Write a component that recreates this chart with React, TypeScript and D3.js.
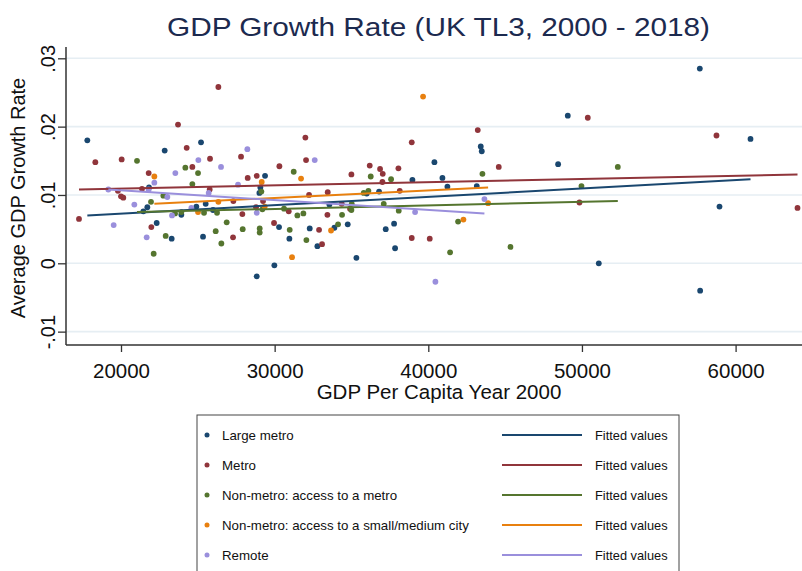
import * as d3 from "d3";
import { useRef, useEffect } from "react";

// [gdp per capita 2000, average growth rate]
const largeMetro: [number, number][] = [
  [17808, 0.018], [22843, 0.0165], [25208, 0.0177], [21823, 0.0111], [21714, 0.0082],
  [21454, 0.0076], [22322, 0.0059], [23298, 0.0036], [23928, 0.0071], [24904, 0.0083],
  [25512, 0.0087], [25338, 0.0039], [25990, 0.0078], [29375, 0.0128], [29071, 0.0111],
  [29006, 0.0103], [28832, -0.0019], [29982, -0.0003], [30286, 0.0053], [30959, 0.0036],
  [32282, 0.0051], [32782, 0.0025], [33563, 0.0086], [33888, 0.0052], [34756, 0.0057],
  [35320, 0.0008], [35993, 0.0102], [36796, 0.0105], [37230, 0.005], [37773, 0.0058],
  [37838, 0.0022], [38966, 0.0122], [40398, 0.0148], [40919, 0.0125], [41244, 0.0112],
  [43154, 0.0113], [43414, 0.0171], [43480, 0.0164], [48449, 0.0145], [49078, 0.0216],
  [51096, 0.0], [57671, 0.0285], [57693, -0.004], [58952, 0.0083], [60970, 0.0182],
];

const metro: [number, number][] = [
  [17266, 0.0065], [18329, 0.0148], [20044, 0.0152], [19800, 0.0106], [20000, 0.0098],
  [20150, 0.0096], [21367, 0.0109], [21801, 0.0132], [21975, 0.0053], [23711, 0.0203],
  [24275, 0.0169], [24644, 0.0141], [25794, 0.0153], [25772, 0.0108], [26337, 0.0258],
  [27313, 0.0091], [27812, 0.0156], [27899, 0.0072], [27291, 0.0038], [28246, 0.0125],
  [28832, 0.0128], [28789, 0.0082], [29244, 0.0091], [29960, 0.0059], [30308, 0.0142],
  [30916, 0.0076], [32000, 0.0184], [32044, 0.0151], [32239, 0.01], [32890, 0.0049],
  [33085, 0.0028], [33454, 0.0104], [33433, 0.0071], [34366, 0.0087], [34908, 0.008],
  [34995, 0.013], [36188, 0.0143], [36861, 0.0138], [37035, 0.0131], [37013, 0.0119],
  [38055, 0.0139], [38141, 0.0106], [38923, 0.0177], [38923, 0.0037], [40094, 0.0036],
  [43219, 0.0195], [44586, 0.0141], [50380, 0.0213], [49838, 0.0089], [58756, 0.0187],
  [64029, 0.0081],
];

const accessMetro: [number, number][] = [
  [21042, 0.015], [21953, 0.009], [22756, 0.0099], [22127, 0.0014], [22908, 0.004],
  [23516, 0.0073], [23928, 0.0075], [24188, 0.014], [25013, 0.0132], [24644, 0.0116],
  [25403, 0.0074], [26250, 0.0074], [26163, 0.0047], [26532, 0.0029], [26879, 0.006],
  [27921, 0.005], [29027, 0.0051], [29027, 0.0045], [29136, 0.0105], [29201, 0.0079],
  [30611, 0.008], [31240, 0.0134], [30980, 0.0049], [31479, 0.007], [31870, 0.0073],
  [32065, 0.0034], [34127, 0.0057], [34387, 0.0071], [35017, 0.0087], [34995, 0.0078],
  [35798, 0.0103], [36102, 0.0106], [36253, 0.0127], [37100, 0.0087], [37577, 0.0123],
  [38076, 0.0077], [41939, 0.0061], [41418, 0.0016], [43523, 0.0131], [45346, 0.0024],
  [49968, 0.0113], [52333, 0.0141],
];

const accessCity: [number, number][] = [
  [22170, 0.0127], [25013, 0.0075], [26337, 0.009], [29158, 0.0119], [29353, 0.0083],
  [31718, 0.0124], [31132, 0.0009], [33671, 0.0048], [39660, 0.0244], [42286, 0.0064],
  [43892, 0.0088],
];

const remote: [number, number][] = [
  [19176, 0.0108], [19523, 0.0056], [20868, 0.0086], [21671, 0.0038], [22170, 0.0118],
  [21801, 0.0108], [23016, 0.0097], [23320, 0.007], [23537, 0.0132], [24579, 0.0081],
  [25035, 0.0151], [25707, 0.0103], [26510, 0.0141], [27617, 0.0115], [28224, 0.0167],
  [28832, 0.0074], [32608, 0.0151], [39140, 0.0075], [43653, 0.0094], [40463, -0.0027],
];

// fitted values at each group's lowest and highest GDP per capita
const fitLargeMetro: [number, number][] = [[17808, 0.007], [60970, 0.0123]];
const fitMetro: [number, number][] = [[17266, 0.0108], [64029, 0.013]];
const fitAccessMetro: [number, number][] = [[21042, 0.0075], [52333, 0.0091]];
const fitAccessCity: [number, number][] = [[22170, 0.0087], [43892, 0.0111]];
const fitRemote: [number, number][] = [[19176, 0.0108], [43653, 0.0073]];

const groupNames = [
  "Large metro",
  "Metro",
  "Non-metro: access to a metro",
  "Non-metro: access to a small/medium city",
  "Remote",
];
const groupColors = ["#1a476f", "#90353b", "#55752f", "#e8800f", "#9a8fdc"];
const groupPoints = [largeMetro, metro, accessMetro, accessCity, remote];
const groupFits = [fitLargeMetro, fitMetro, fitAccessMetro, fitAccessCity, fitRemote];

const xTicks = [20000, 30000, 40000, 50000, 60000];
const yTicks = [-0.01, 0, 0.01, 0.02, 0.03];
const yTickLabels = ["-.01", "0", ".01", ".02", ".03"];

const FONT = "'Liberation Sans', Arial, sans-serif";

export default function App() {
  const xAxisRef = useRef<SVGGElement | null>(null);
  const yAxisRef = useRef<SVGGElement | null>(null);

  const plotLeft = 66;
  const plotRight = 802;
  const plotTop = 47;
  const plotBottom = 345;

  const x = d3.scaleLinear().domain([20000, 60000]).range([121, 735.6]);
  const y = d3.scaleLinear().domain([0, 0.03]).range([263.3, 58.3]);

  const line = d3.line<[number, number]>(
    (d) => x(d[0]),
    (d) => y(d[1])
  );

  useEffect(() => {
    if (xAxisRef.current) {
      d3.select(xAxisRef.current)
        .call(
          d3
            .axisBottom(x)
            .tickValues(xTicks)
            .tickSize(7)
            .tickSizeOuter(0)
            .tickPadding(11)
            .tickFormat(d3.format("d"))
        )
        .call((g) => g.select(".domain").remove())
        .attr("font-family", FONT)
        .attr("font-size", 20.5)
        .call((g) => g.selectAll("line").attr("stroke", "#333").attr("stroke-width", 1.3))
        .call((g) => g.selectAll("text").attr("fill", "#111"));
    }
    if (yAxisRef.current) {
      d3.select(yAxisRef.current)
        .call(
          d3
            .axisLeft(y)
            .tickValues(yTicks)
            .tickSize(8)
            .tickSizeOuter(0)
            .tickFormat((_, i) => yTickLabels[i])
        )
        .call((g) => g.select(".domain").remove())
        .attr("font-family", FONT)
        .attr("font-size", 20)
        .call((g) => g.selectAll("line").attr("stroke", "#333").attr("stroke-width", 1.3))
        .call((g) =>
          g
            .selectAll("text")
            .attr("fill", "#111")
            .attr("x", 0)
            .attr("dy", 0)
            .attr("text-anchor", "middle")
            .attr("transform", "translate(-11,0) rotate(-90)")
        );
    }
  }, [x, y]);

  return (
    <svg
      width={802}
      height={571}
      style={{ position: "absolute", left: 0, top: 0, background: "#fff" }}
      fontFamily={FONT}
    >
      <text x={167} y={36} fontSize={26} fill="#1c2a4f" textLength={543} lengthAdjust="spacingAndGlyphs">
        GDP Growth Rate (UK TL3, 2000 - 2018)
      </text>

      {yTicks.map((t) => (
        <line key={t} x1={plotLeft} x2={plotRight} y1={y(t)} y2={y(t)} stroke="#e6eef3" strokeWidth={1.6} />
      ))}

      {groupPoints.map((pts, gi) => (
        <g key={gi} fill={groupColors[gi]}>
          {pts.map((d, i) => (
            <circle key={i} cx={x(d[0])} cy={y(d[1])} r={2.9} />
          ))}
        </g>
      ))}

      {groupFits.map((f, gi) => (
        <path key={gi} d={line(f) || undefined} fill="none" stroke={groupColors[gi]} strokeWidth={2} />
      ))}

      <line x1={plotLeft} x2={plotLeft} y1={plotTop} y2={plotBottom} stroke="#333" strokeWidth={1.5} />
      <line x1={plotLeft} x2={plotRight} y1={plotBottom} y2={plotBottom} stroke="#333" strokeWidth={1.5} />
      <g ref={yAxisRef} transform={`translate(${plotLeft},0)`} />
      <g ref={xAxisRef} transform={`translate(0,${plotBottom})`} />

      <text
        transform={`translate(25,${(plotTop + plotBottom) / 2 + 2}) rotate(-90)`}
        textAnchor="middle"
        fontSize={20}
        fill="#111"
      >
        Average GDP Growth Rate
      </text>
      <text x={439} y={399} textAnchor="middle" fontSize={20.5} fill="#111">
        GDP Per Capita Year 2000
      </text>

      <rect x={197} y={415} width={482} height={170} fill="#fff" stroke="#444" strokeWidth={1} />
      {groupNames.map((name, i) => {
        const rowY = 435 + i * 30;
        return (
          <g key={name}>
            <circle cx={207} cy={rowY} r={2.5} fill={groupColors[i]} />
            <text x={222} y={rowY + 4.5} fontSize={13.3} fill="#111">
              {name}
            </text>
            <line x1={502} x2={582} y1={rowY} y2={rowY} stroke={groupColors[i]} strokeWidth={2} />
            <text x={595} y={rowY + 4.5} fontSize={12.8} fill="#111">
              Fitted values
            </text>
          </g>
        );
      })}
    </svg>
  );
}
